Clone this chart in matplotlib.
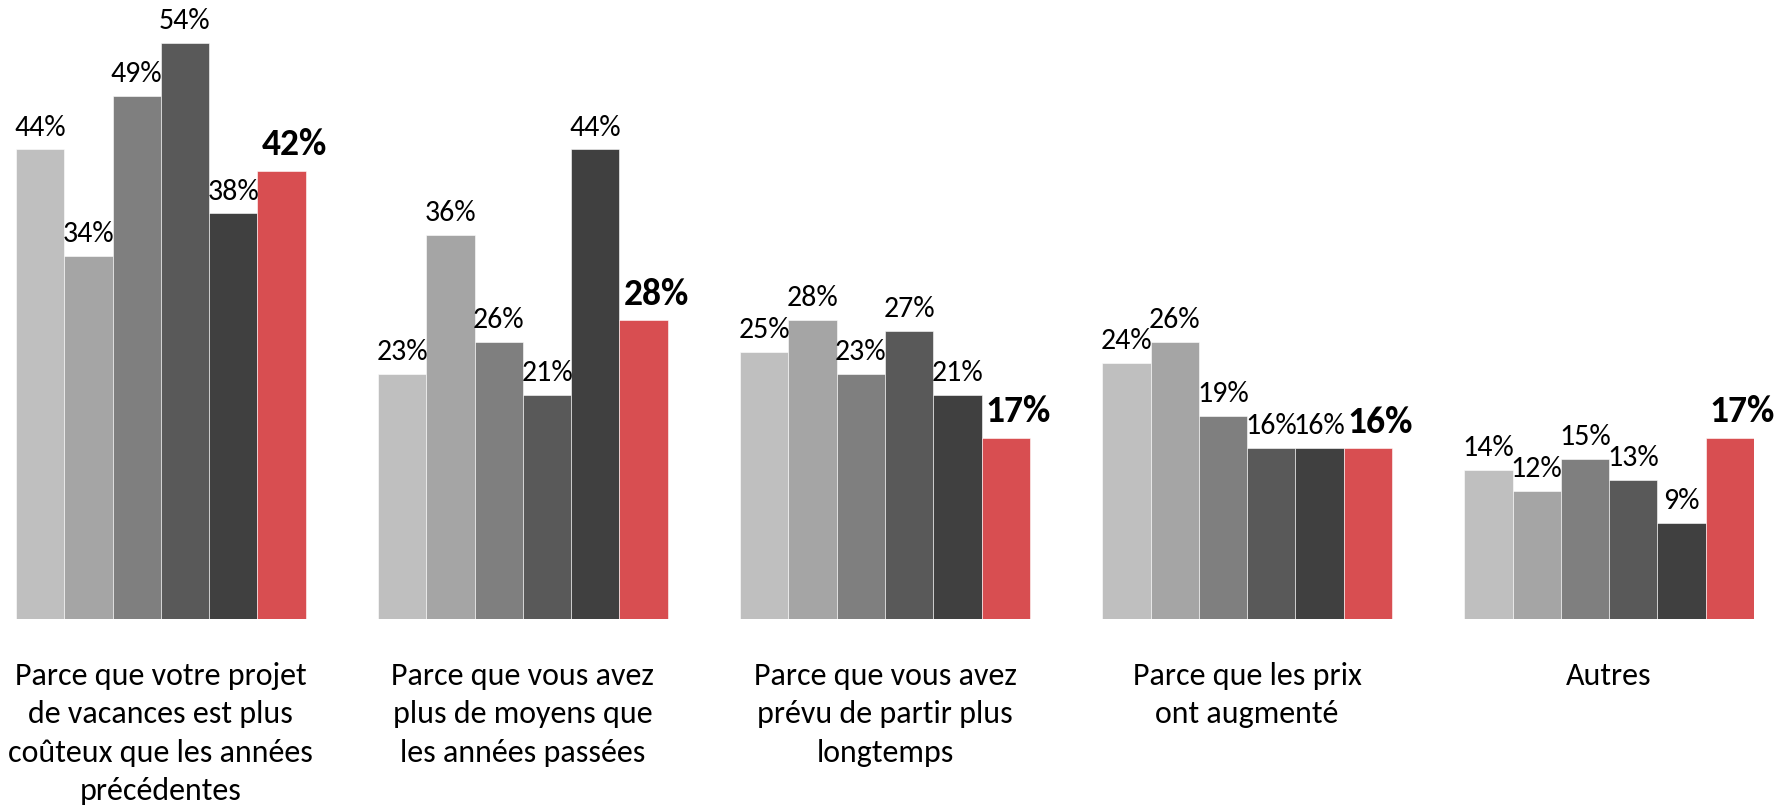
import matplotlib
matplotlib.use("Agg")
import matplotlib.pyplot as plt
import numpy as np

categories = [
    "Parce que votre projet\nde vacances est plus\ncoûteux que les années\nprécédentes",
    "Parce que vous avez\nplus de moyens que\nles années passées",
    "Parce que vous avez\nprévu de partir plus\nlongtemps",
    "Parce que les prix\nont augmenté",
    "Autres",
]
# six series per category, the last one (red) is the current year
s1 = [44, 23, 25, 24, 14]
s2 = [34, 36, 28, 26, 12]
s3 = [49, 26, 23, 19, 15]
s4 = [54, 21, 27, 16, 13]
s5 = [38, 44, 21, 16, 9]
s6 = [42, 28, 17, 16, 17]

series = [s1, s2, s3, s4, s5, s6]
colors = ["#BFBFBF", "#A5A5A5", "#7F7F7F", "#595959", "#404040", "#D84E51"]

plt.rcParams["font.family"] = ["Carlito", "Lato", "DejaVu Sans"]

fig = plt.figure(figsize=(17.82, 8.07), dpi=100)
ax = fig.add_axes([16 / 1782, (807 - 619) / 807, (1754 - 16) / 1782, 619 / 807])

n = len(series)
pitch = n + 1.5
groups = np.arange(len(categories)) * pitch

for j, (vals, c) in enumerate(zip(series, colors)):
    x = groups + j + 0.5
    ax.bar(x, vals, width=1.0, color=c, edgecolor="white", linewidth=0.4)
    last = j == n - 1
    for xi, v in zip(x, vals):
        if last:
            ax.annotate(f"{v}%", xy=(xi - 0.5, v), xytext=(3, 11), textcoords="offset points",
                        ha="left", va="baseline", fontsize=27, fontweight="bold")
        else:
            ax.annotate(f"{v}%", xy=(xi, v), xytext=(0, 10), textcoords="offset points",
                        ha="center", va="baseline", fontsize=21.5)

for g, lab in zip(groups, categories):
    ax.annotate(lab, xy=(g + n / 2, 0), xytext=(0, -31), textcoords="offset points",
                ha="center", va="top", fontsize=23, linespacing=1.45)

ax.set_xlim(0, groups[-1] + n)
ax.set_ylim(0, 58)
ax.axis("off")

fig.savefig("out.png", dpi=100)
